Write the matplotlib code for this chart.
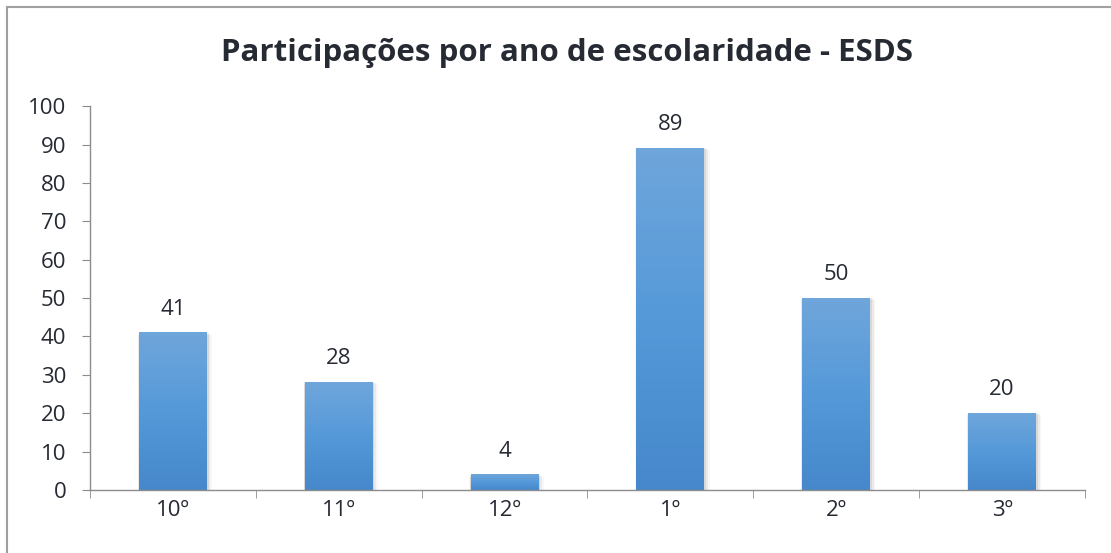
import numpy as np
import matplotlib
matplotlib.use("Agg")
import matplotlib.pyplot as plt
from matplotlib.colors import LinearSegmentedColormap
from matplotlib.patches import Rectangle
from matplotlib.lines import Line2D

plt.rcParams['font.family'] = ['Open Sans', 'DejaVu Sans']

# dados
categorias = ["10º", "11º", "12º", "1º", "2º", "3º"]
participacoes = [41, 28, 4, 89, 50, 20]
titulo = "Participações por ano de escolaridade - ESDS"

txt_cor = "#262a33"
fig = plt.figure(figsize=(11.11, 5.53), dpi=100)
ax = fig.add_axes([0.081, 0.114, 0.8956, 0.694])

# gradiente vertical das barras
cmap = LinearSegmentedColormap.from_list("azul", ["#4688cb", "#5599d9", "#6fa6db"])
grad = np.linspace(0, 1, 256).reshape(-1, 1)
largura = 0.41
x = np.arange(len(categorias))

for xi, v in zip(x, participacoes):
    # sombra suave
    for k, a in enumerate([0.07, 0.05, 0.03]):
        d = 0.008 * (k + 1)
        ax.add_patch(Rectangle((xi - largura / 2 - d * 0.3, -0.3 - k * 0.25), largura + d * 1.6, v + 0.3,
                               facecolor="black", alpha=a, edgecolor="none", zorder=1))
    ax.imshow(grad, cmap=cmap, origin="lower", aspect="auto",
              extent=(xi - largura / 2, xi + largura / 2, 0, v), zorder=2)
    ax.text(xi, v + 3.4, str(v), ha="center", va="bottom", fontsize=16, color=txt_cor)

ax.set_xlim(-0.5, len(categorias) - 0.5)
ax.set_ylim(0, 100)
ax.set_yticks(np.arange(0, 101, 10))
ax.set_xticks(x)
ax.set_xticklabels(categorias)
ax.set_xticks(np.arange(-0.5, len(categorias), 1), minor=True)
ax.tick_params(axis="x", which="major", length=0, pad=7, labelsize=16, labelcolor=txt_cor)
ax.tick_params(axis="x", which="minor", length=6, color="#8c8c8c", direction="out")
ax.tick_params(axis="y", length=6, color="#8c8c8c", pad=11, labelsize=16, labelcolor=txt_cor)
for s in ["top", "right"]:
    ax.spines[s].set_visible(False)
for s in ["left", "bottom"]:
    ax.spines[s].set_color("#8c8c8c")
    ax.spines[s].set_linewidth(1)

fig.text(0.51, 0.905, titulo, ha="center", va="center", fontsize=22.5,
         fontweight="bold", color=txt_cor)

# moldura (só topo e esquerda visíveis)
fig.add_artist(Line2D([7 / 1111, 1], [1 - 7 / 553, 1 - 7 / 553], color="#a0a0a0", lw=1.5))
fig.add_artist(Line2D([7 / 1111, 7 / 1111], [0, 1 - 7 / 553], color="#a0a0a0", lw=1.5))

fig.savefig("out.png", dpi=100)
